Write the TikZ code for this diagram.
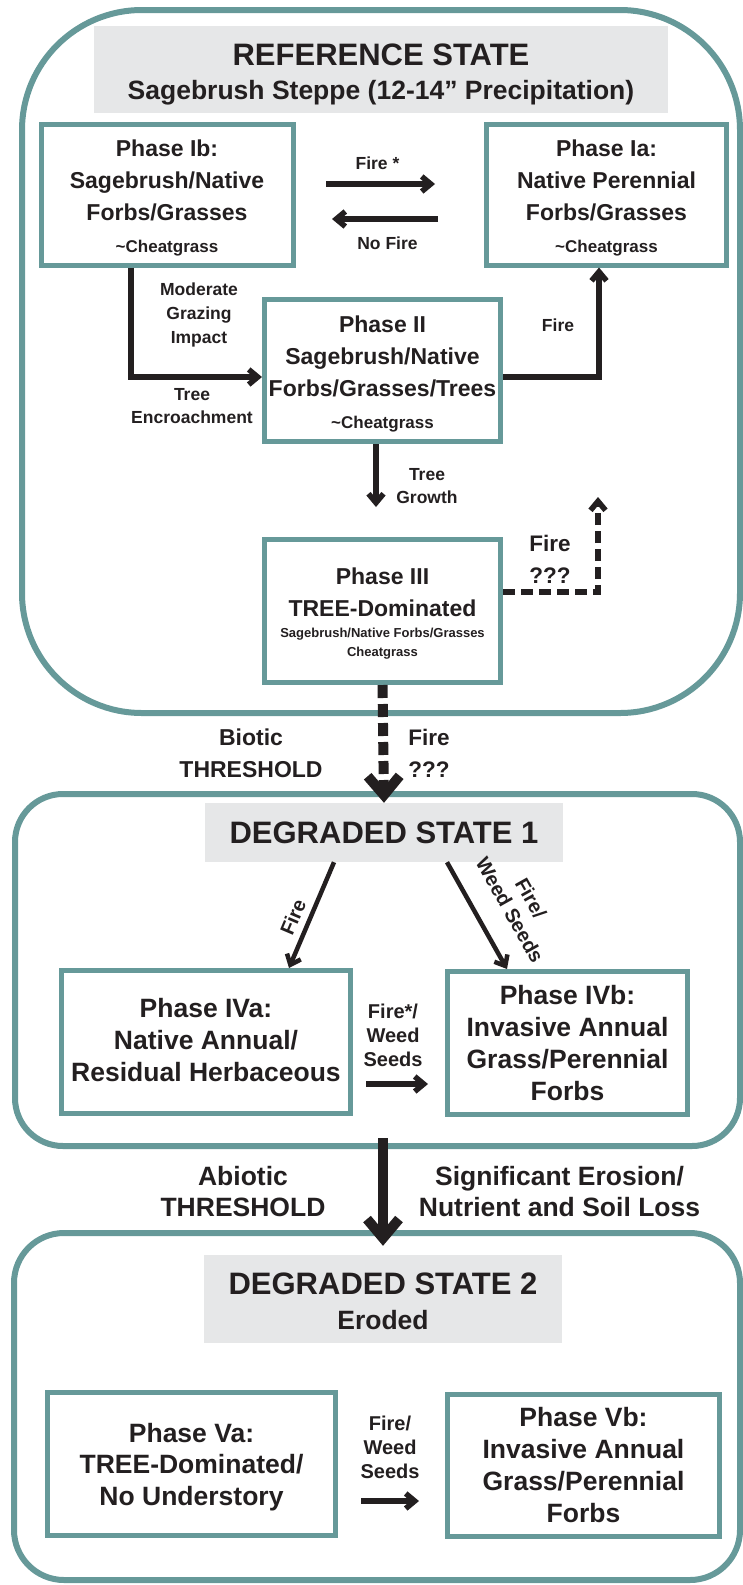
\documentclass[tikz,border=0pt]{standalone}
\usepackage{fontspec}
\setmainfont{Liberation Sans}
\usepackage{tikz}
\usetikzlibrary{arrows.meta}

\definecolor{framecol}{RGB}{102,153,153}
\definecolor{titlegray}{RGB}{230,231,232}
\definecolor{inkcol}{RGB}{35,31,32}

\newcommand{\setfs}[2]{\fontsize{#1}{#2}\selectfont\bfseries}
\newcommand{\padline}[2][0pt]{\rule[#1]{0pt}{#2}}

\tikzset{
	phasebox/.style={draw=framecol, line width=5pt, fill=white, inner sep=0pt, align=center, text=inkcol},
	titlebox/.style={fill=titlegray, inner sep=0pt, align=center, text=inkcol},
	stateframe/.style={draw=framecol, line width=6pt},
	flow/.style={draw=inkcol, line width=5.5pt, -{Straight Barb[length=9pt,width=15pt]}},
	bigflow/.style={draw=inkcol, line width=10pt, -{Straight Barb[length=19pt,width=32pt]}},
	lbl/.style={text=inkcol, align=center, inner sep=0pt},
}

\begin{document}
\begin{tikzpicture}[x=1pt, y=-1pt]
		\useasboundingbox (0,0) rectangle (743,1585);
		
		% state frames
		\draw[stateframe, rounded corners=120pt] (22,10) rectangle (740,713);
		\draw[stateframe, rounded corners=48pt] (15,794) rectangle (740,1146);
		\draw[stateframe, rounded corners=50pt] (14,1233) rectangle (740,1580);
		
		% state titles
		\node[titlebox, minimum width=574pt, minimum height=87pt, font={\setfs{31}{34}}] (T1) at (381,69.5)
			{\padline{31pt}REFERENCE STATE\\\setfs{26.5}{34}Sagebrush Steppe (12-14” Precipitation)};
		\node[titlebox, minimum width=358pt, minimum height=59pt, font={\setfs{31}{34}}] (T2) at (384,832.5)
			{DEGRADED STATE 1};
		\node[titlebox, minimum width=358pt, minimum height=88pt, font={\setfs{31}{35}}] (T3) at (383,1299)
			{\padline{26pt}DEGRADED STATE 2\\\setfs{26.5}{35}Eroded};
		
		% reference state phases
		\node[phasebox, minimum width=252pt, minimum height=141pt, font={\setfs{23}{32}}] (Ib) at (167,194.5)
			{\padline{23pt}Phase Ib:\\Sagebrush/Native\\Forbs/Grasses\\\setfs{17}{32}\textasciitilde Cheatgrass};
		\node[phasebox, minimum width=240pt, minimum height=141pt, font={\setfs{23}{32}}] (Ia) at (606.5,194.5)
			{\padline{23pt}Phase Ia:\\Native Perennial\\Forbs/Grasses\\\setfs{17}{32}\textasciitilde Cheatgrass};
		\node[phasebox, minimum width=236pt, minimum height=142pt, font={\setfs{23}{32}}] (II) at (382.5,370.5)
			{\padline{23pt}Phase II\\Sagebrush/Native\\Forbs/Grasses/Trees\\\setfs{17}{32}\textasciitilde Cheatgrass};
		\node[phasebox, minimum width=236pt, minimum height=143pt, font={\setfs{23}{32}}] (III) at (382.5,611)
			{\padline{22pt}Phase III\\TREE-Dominated\\[-11pt]\setfs{13}{32}Sagebrush/Native Forbs/Grasses\\[-13pt]\setfs{13}{32}Cheatgrass};
		
		% degraded state 1 phases
		\node[phasebox, minimum width=289pt, minimum height=143pt, font={\setfs{26.5}{32}}] (IVa) at (206,1042)
			{Phase IVa:\\Native Annual/\\Residual Herbaceous\padline[-5pt]{5pt}};
		\node[phasebox, minimum width=240pt, minimum height=143pt, font={\setfs{26.5}{32}}] (IVb) at (567.5,1043)
			{Phase IVb:\\Invasive Annual\\Grass/Perennial\\Forbs};
		
		% degraded state 2 phases
		\node[phasebox, minimum width=288pt, minimum height=143pt, font={\setfs{26.5}{31.5}}] (Va) at (191.5,1464)
			{\padline{24.5pt}Phase Va:\\TREE-Dominated/\\No Understory};
		\node[phasebox, minimum width=272pt, minimum height=142pt, font={\setfs{26.5}{32}}] (Vb) at (583.5,1465.5)
			{Phase Vb:\\Invasive Annual\\Grass/Perennial\\Forbs};
		
		% transitions in reference state
		\draw[flow, shorten <=30.5pt, shorten >=49pt] ([yshift=10.5pt]Ib.east) -- ([yshift=10.5pt]Ia.west);
		\draw[flow, shorten <=46pt, shorten >=36.5pt] ([yshift=-24.5pt]Ia.west) -- ([yshift=-24.5pt]Ib.east);
		\draw[flow] ([xshift=-36pt]Ib.south) |- ([yshift=-6.5pt]II.west);
		\draw[flow] ([yshift=-6.5pt]II.east) -| ([xshift=-7.5pt]Ia.south);
		\draw[flow, shorten >=30pt] ([xshift=-6.5pt]II.south) -- ([xshift=-6.5pt]III.north);
		\coordinate (fireup) at (598,497);
		\draw[flow, dash pattern=on 12pt off 6pt] ([yshift=19pt]III.east) -| (fireup);
		
		\node[lbl, font={\setfs{17.5}{24}}] (firestar) at (377.5,163) {Fire *};
		\node[lbl, font={\setfs{17.5}{24}}] (nofire) at (387.5,243) {No Fire};
		\node[lbl, font={\setfs{17.5}{24}}] (grazing) at (199,315) {Moderate\\Grazing\\Impact};
		\node[lbl, font={\setfs{17.5}{23}}] (encroach) at (192,406.5) {Tree\\Encroachment};
		\node[lbl, font={\setfs{17.5}{24}}] (fireII) at (558,325) {Fire};
		\node[lbl, font={\setfs{17.5}{23}}] (growth) at (427,486.5) {Tree\\Growth};
		\node[lbl, font={\setfs{22.5}{32}}] (fireIII) at (550,559) {Fire\\???};
		
		% biotic threshold
		\draw[bigflow, dash pattern=on 13pt off 6pt] (III.south) -- (T2.north);
		\node[lbl, font={\setfs{23}{32}}] (biotic) at (251,753) {Biotic\\THRESHOLD};
		\node[lbl, font={\setfs{22.5}{32}}] (firebio) at (429,753) {Fire\\???};
		
		% transitions in degraded state 1
		\draw[flow, line width=4.5pt] ([xshift=-50pt]T2.south) -- ([xshift=83pt]IVa.north);
		\draw[flow, line width=4.5pt] ([xshift=63pt]T2.south) -- ([xshift=-60.5pt]IVb.north);
		\draw[flow, shorten <=13pt, shorten >=17pt] ([yshift=-42pt]IVa.east) -- ([yshift=-41pt]IVb.west);
		\node[lbl, rotate=67, font={\setfs{20}{24}}] (firedeg) at (293,917) {Fire};
		\node[lbl, rotate=-60.7, font={\setfs{20}{24}}] (weeddeg) at (520.5,904) {Fire/\\Weed Seeds};
		\node[lbl, font={\setfs{20}{24}}] (weedIV) at (393,1035.5) {Fire*/\\Weed\\Seeds};
		
		% abiotic threshold
		\coordinate (abio) at (383,1138);
		\draw[bigflow, shorten >=9pt] (abio) -- (abio |- T3.north);
		\node[lbl, font={\setfs{26.5}{31}}] (abiotic) at (243,1191.5) {Abiotic\\THRESHOLD};
		\node[lbl, font={\setfs{26.5}{31}}] (erosion) at (559.5,1191.5) {Significant Erosion/\\Nutrient and Soil Loss};
		
		% transitions in degraded state 2
		\draw[flow, shorten <=23pt, shorten >=26pt] ([yshift=-37pt]Va.east) -- ([yshift=-35.5pt]Vb.west);
		\node[lbl, font={\setfs{20}{24}}] (weedV) at (390,1447) {Fire/\\Weed\\Seeds};
		
	\end{tikzpicture}
\end{document}
